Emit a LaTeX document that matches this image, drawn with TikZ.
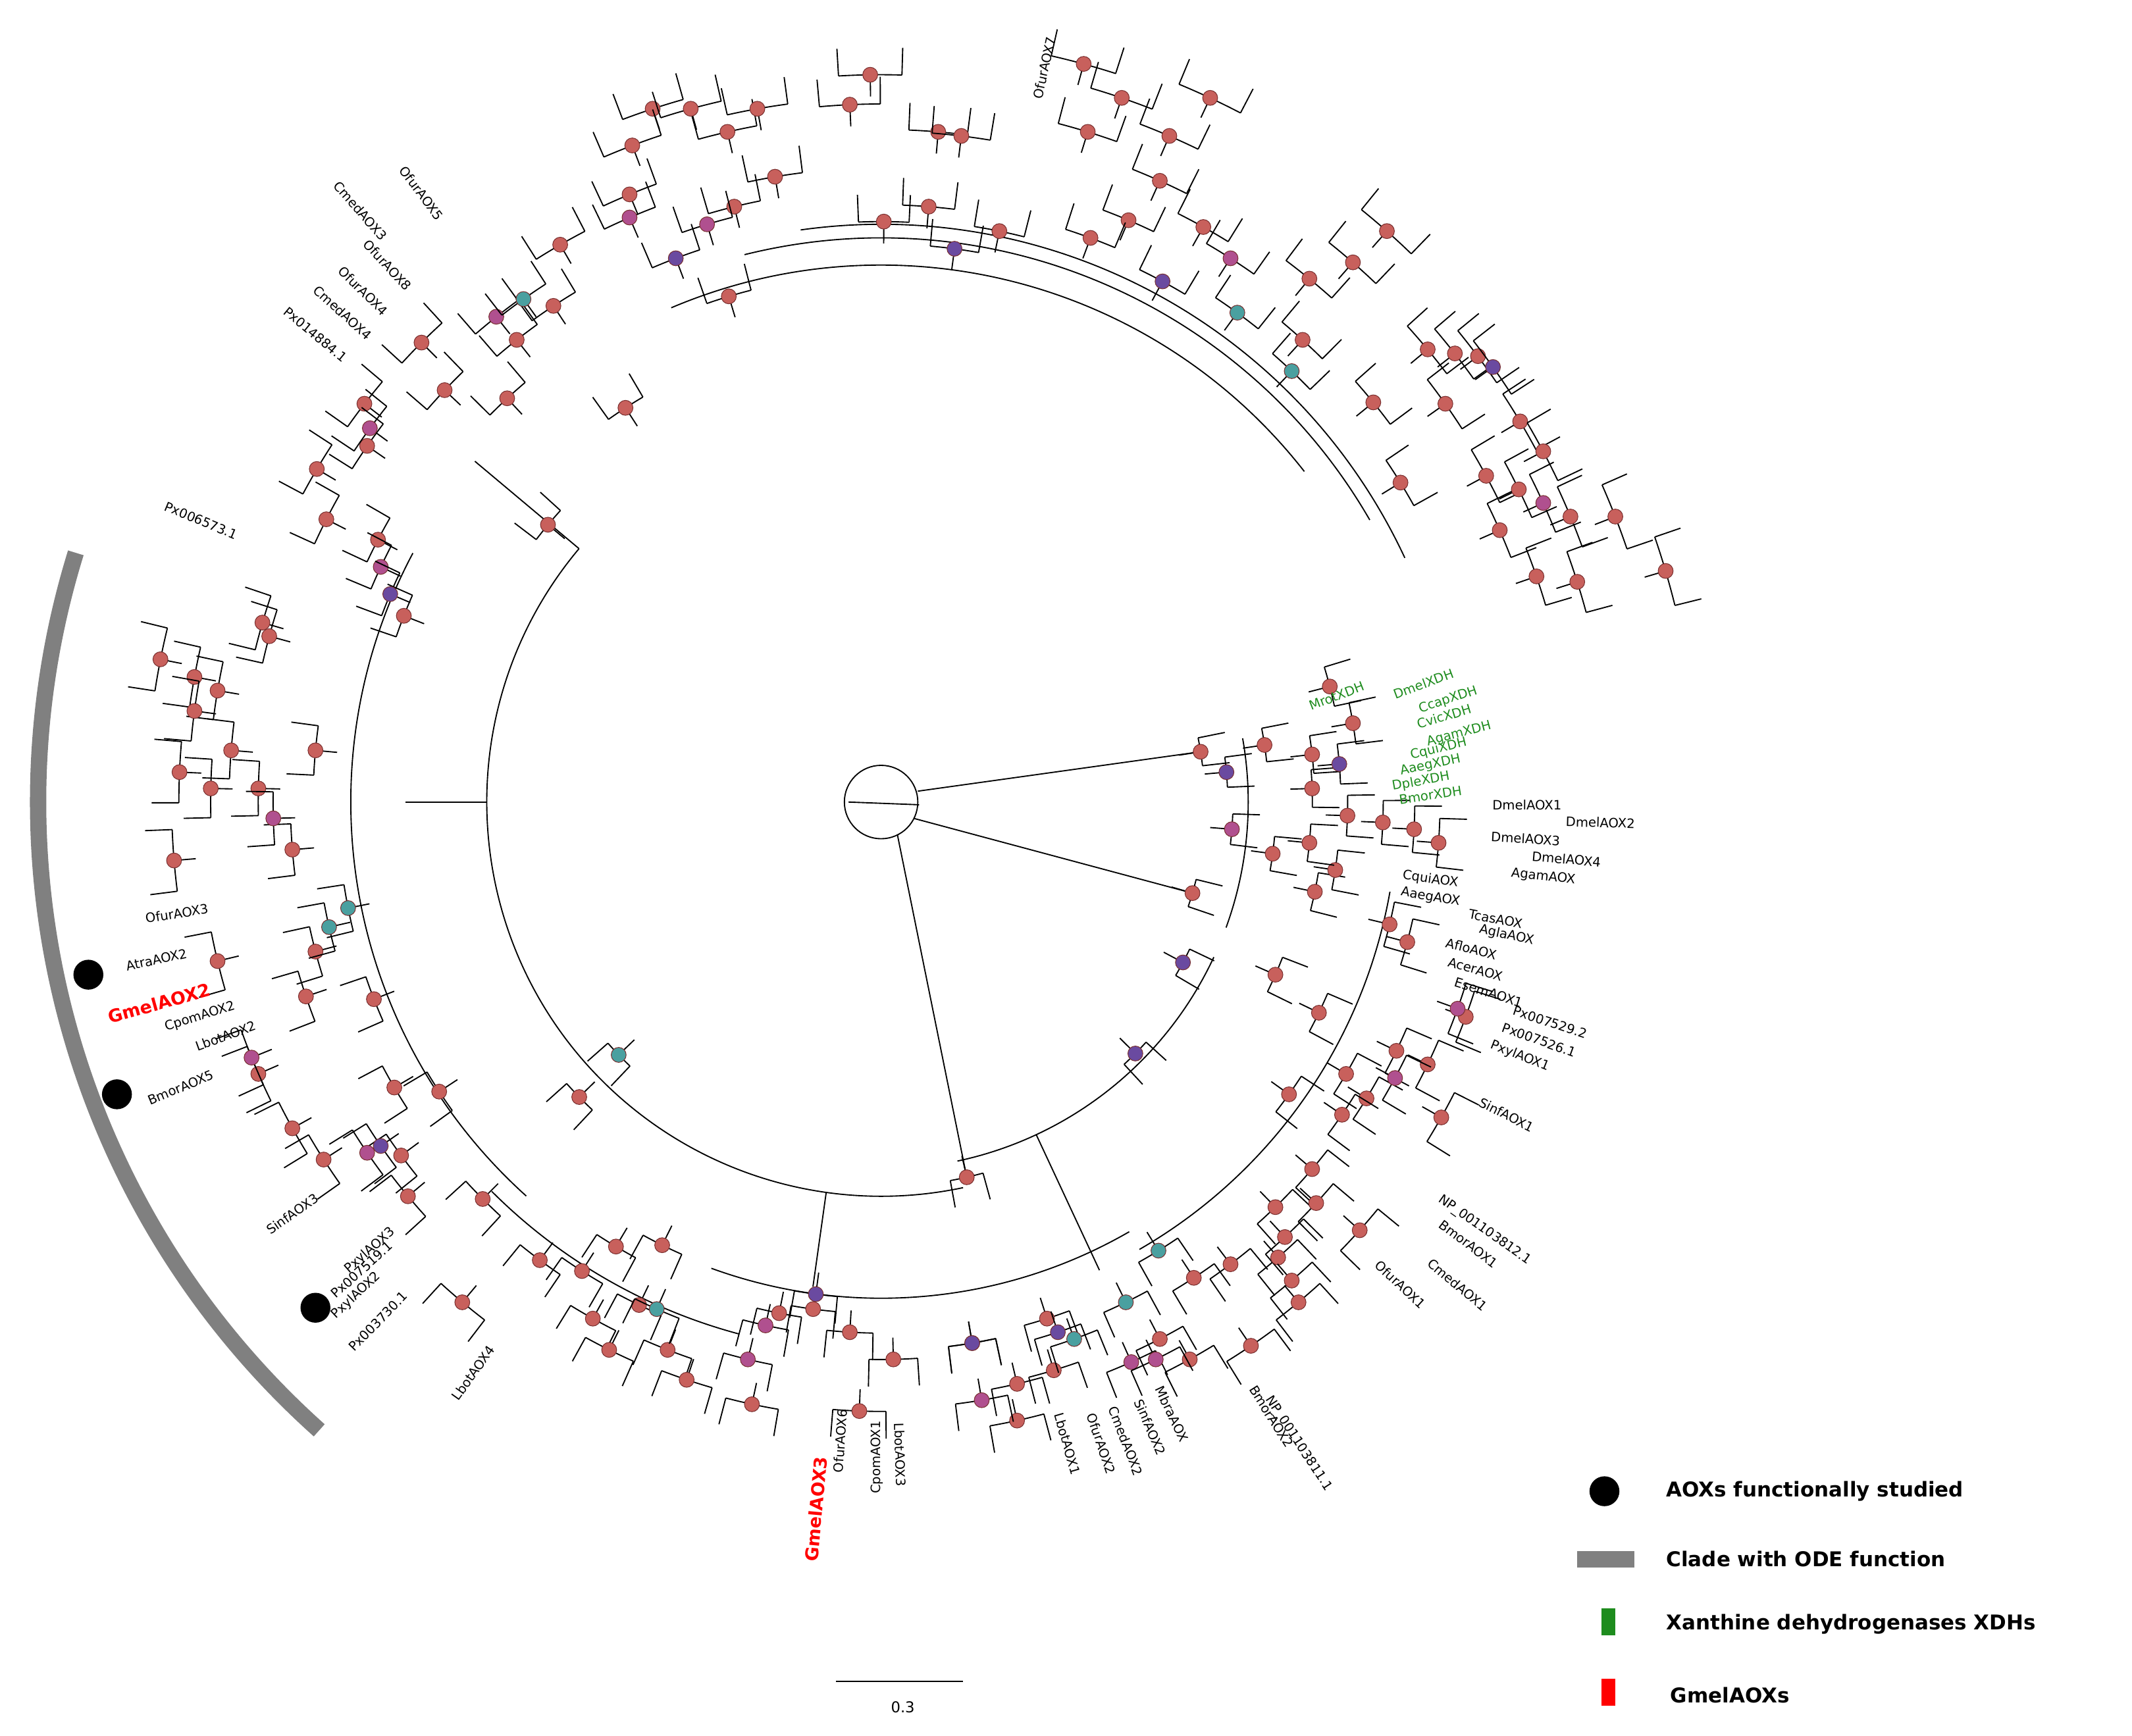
\documentclass[tikz,border=0pt]{standalone}
\usepackage{fontspec}
\setmainfont{DejaVu Sans}
\begin{document}
\definecolor{rd}{HTML}{C8605C}\definecolor{rdb}{HTML}{7A3030}
\definecolor{mg}{HTML}{B0508F}\definecolor{pu}{HTML}{6A4AA0}\definecolor{te}{HTML}{4AA0A0}
\definecolor{gx}{HTML}{1E8C1E}\definecolor{rr}{HTML}{FF0000}
\newcommand\lb[4][]{%
 \pgfmathsetmacro\ang{atan2(590-#3,#2-648)}%
 \pgfmathsetmacro\rot{ifthenelse(cos(\ang)<0,\ang+180,\ang)}%
 \node[lbl,#1,rotate=\rot] at (#2,-#3) {#4};}
\newcommand\dt[3][rd]{%
 \pgfmathsetmacro\ang{atan2(590-#3,#2-648)}%
 \pgfmathsetmacro\rr{veclen(#2-648,590-#3)}%
 \draw[br] (C) ++(\ang-2.5:\rr) arc[start angle=\ang-2.5,end angle=\ang+2.5,radius=\rr];
 \draw[br] (C) ++(\ang-2.5:\rr) -- ++(\ang-2.5:20);
 \draw[br] (C) ++(\ang+2.5:\rr) -- ++(\ang+2.5:20);
 \draw[br] (C) ++(\ang:\rr) -- ++(\ang+180:16);
 \filldraw[fill=#1,draw=rdb,line width=0.5] (#2,-#3) circle (5.5);}
\begin{tikzpicture}[x=1pt,y=1pt,
 br/.style={line width=0.9,black},
 lbl/.style={font=\fontsize{9.5}{10}\selectfont,inner sep=0pt},
 rlab/.style={font=\fontsize{13}{14}\selectfont\bfseries,text=rr},
 grn/.style={text=gx},
 leg/.style={font=\fontsize{15}{16}\selectfont\bfseries,anchor=west}]
\useasboundingbox (0,0) rectangle (1568,-1277);
\fill[white] (0,0) rectangle (1568,-1277);
\coordinate (C) at (648,-590);
% centre
\draw[br] (C) circle (27);
\draw[br] (624,-590) -- (676,-592);
\draw[br] (675,-582) -- (883,-553);
\draw[br] (672,-602) -- (877,-657);
\draw[br] (660,-614) -- (711,-866);
% backbone arcs
\draw[br] (C) ++(140:290) arc[start angle=140,end angle=282,radius=290];
\draw[br] (C) ++(282:270) arc[start angle=282,end angle=335,radius=270];
\draw[br] (C) ++(113:395) arc[start angle=113,end angle=38,radius=395];
\draw[br] (C) ++(104:415) arc[start angle=104,end angle=30,radius=415];
\draw[br] (C) ++(98:425) arc[start angle=98,end angle=25,radius=425];
\draw[br] (C) ++(250:365) arc[start angle=250,end angle=300,radius=365];
\draw[br] (C) ++(152:390) arc[start angle=152,end angle=228,radius=390];
\draw[br] (C) ++(225:405) arc[start angle=225,end angle=255,radius=405];
\draw[br] (C) ++(300:380) arc[start angle=300,end angle=350,radius=380];
\draw[br] (C) ++(10:270) arc[start angle=10,end angle=-20,radius=270];
\draw[br] (C) ++(140:290) -- ++(140:100);
\draw[br] (C) ++(180:290) -- ++(180:60);
\draw[br] (C) ++(262:290) -- ++(262:70);
\draw[br] (C) ++(295:270) -- ++(295:110);
% grey clade
\draw[line width=12,gray] (C) ++(162.8:620) arc[start angle=162.8,end angle=228.2,radius=620];
% dots
\foreach \x/\y in {797/47,825/72,890/72,800/97,860/100,853/133,830/162,802/175,885/167,963/205,1020/170,995/193,958/250,1050/257,1070/260,1087/262,1010/296,1063/297,1118/310,1135/332,1093/350,1117/360,1103/390,1155/380,1188/380,1130/424,1160/428,1225/420,1030/355,480/80,465/107,535/97,508/80,557/80,625/77,640/55,690/97,707/100,570/130,540/152,463/143,650/163,683/152,735/170,412/180,407/225,536/218,380/250,310/252,327/287,373/293,460/300,403/386,268/297,270/328,233/345,240/382,278/397,297/453,193/458,198/468,118/485,143/498,160/508,143/523,170/552,132/568,155/580,190/580,128/633,232/552,215/625,160/707,232/700,225/733,190/790,215/830,238/853,295/850,300/880,290/800,323/803,275/735,426/807,355/882,340/958,397/927,428/935,453/917,487/916,470/960,436/970,448/993,491/993,505/1015,553/1033,573/966,598/963,625/980,632/1038,657/1000,711/866,715/988,748/1018,748/1045,770/970,775/1008,853/985,875/1000,878/940,905/930,938/888,945/910,940/925,950/942,955/958,920/990,965/860,968/885,1000/905,990/790,1027/773,1050/783,1060/822,1005/808,987/820,948/805,970/745,938/717,1078/748,1035/693,1022/680,967/656,936/628,982/640,1058/620,1017/605,991/600,877/657,965/580,965/555,995/532,978/505,930/548,883/553,963/620,1040/610}{\dt{\x}{\y}}
\foreach \x/\y in {463/160,365/233,520/165,905/190,1135/370,272/315,280/417,201/602,270/848,563/975,550/1000,722/1030,832/1002,850/1000,1026/793,1072/742,906/610,185/778}{\dt[mg]{\x}{\y}}
\foreach \x/\y in {497/190,702/183,855/207,1098/270,287/437,280/843,600/952,715/988,778/980,835/775,870/708,985/562,902/568}{\dt[pu]{\x}{\y}}
\foreach \x/\y in {910/230,950/273,385/220,256/668,242/682,455/776,483/963,790/985,828/958,852/920}{\dt[te]{\x}{\y}}
% labels
\lb{768}{50}{OfurAOX7}
\lb{265}{155}{CmedAOX3}\lb{310}{142}{OfurAOX5}\lb{285}{195}{OfurAOX8}
\lb{267}{214}{OfurAOX4}\lb{252}{230}{CmedAOX4}\lb{232}{246}{Px014884.1}
\lb{148}{383}{Px006573.1}\lb{130}{672}{OfurAOX3}\lb{115}{706}{AtraAOX2}
\lb[rlab]{117}{738}{GmelAOX2}\lb{147}{748}{CpomAOX2}\lb{166}{762}{LbotAOX2}
\lb{133}{800}{BmorAOX5}\lb{215}{893}{SinfAOX3}\lb{272}{920}{PxylAOX3}
\lb{266}{934}{Px007519.1}\lb{262}{953}{PxylAOX2}\lb{278}{972}{Px003730.1}
\lb{348}{1010}{LbotAOX4}\lb[rlab]{600}{1110}{GmelAOX3}\lb{618}{1060}{OfurAOX6}
\lb{645}{1072}{CpomAOX1}\lb{662}{1070}{LbotAOX3}\lb{785}{1062}{LbotAOX1}
\lb{810}{1062}{OfurAOX2}\lb{828}{1060}{CmedAOX2}\lb{846}{1050}{SinfAOX2}
\lb{862}{1040}{MbraAOX}\lb{955}{1062}{NP\_001103811.1}\lb{935}{1042}{BmorAOX2}
\lb{1030}{945}{OfurAOX1}\lb{1072}{945}{CmedAOX1}\lb{1080}{915}{BmorAOX1}
\lb{1092}{905}{NP\_001103812.1}\lb{1108}{820}{SinfAOX1}\lb{1118}{777}{PxylAOX1}
\lb{1132}{765}{Px007526.1}\lb{1140}{752}{Px007529.2}\lb{1095}{730}{EsemAOX1}
\lb{1085}{713}{AcerAOX}\lb{1082}{698}{AfloAOX}\lb{1108}{688}{AglaAOX}
\lb{1100}{676}{TcasAOX}\lb{1052}{660}{AaegAOX}\lb{1052}{647}{CquiAOX}
\lb{1135}{645}{AgamAOX}\lb{1152}{632}{DmelAOX4}\lb{1122}{617}{DmelAOX3}
\lb{1177}{605}{DmelAOX2}\lb{1123}{592}{DmelAOX1}
\lb[grn,rotate=8]{983}{512}{MrotXDH}\lb[grn,rotate=8]{1047}{503}{DmelXDH}
\lb[grn,rotate=8]{1065}{515}{CcapXDH}\lb[grn,rotate=8]{1062}{527}{CvicXDH}
\lb[grn,rotate=8]{1073}{540}{AgamXDH}\lb[grn,rotate=8]{1058}{551}{CquiXDH}
\lb[grn,rotate=8]{1052}{563}{AaegXDH}\lb[grn,rotate=8]{1045}{575}{DpleXDH}
\lb[grn,rotate=8]{1052}{585}{BmorXDH}
% studied
\fill (65,-717) circle (11); \fill (86,-805) circle (11); \fill (232,-962) circle (11);
% scale
\draw[line width=1] (615,-1237) -- (708,-1237);
\node[lbl,font=\fontsize{11}{12}\selectfont] at (664,-1256) {0.3};
% legend
\fill (1180,-1097) circle (11); \node[leg] at (1222,-1097) {AOXs functionally studied};
\fill[gray] (1160,-1141) rectangle (1202,-1153); \node[leg] at (1222,-1147) {Clade with ODE function};
\fill[gx] (1178,-1183) rectangle (1188,-1203); \node[leg] at (1222,-1195) {Xanthine dehydrogenases XDHs};
\fill[rr] (1178,-1235) rectangle (1188,-1255); \node[leg] at (1225,-1247) {GmelAOXs};
\end{tikzpicture}
\end{document}
